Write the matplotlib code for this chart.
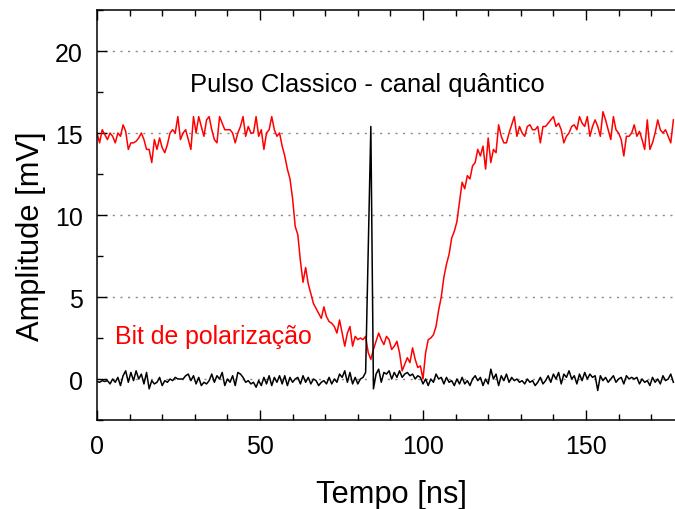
# Pulso classico e bit de polarizacao (canal quantico)
import numpy as np
import matplotlib.pyplot as plt
from matplotlib.ticker import MultipleLocator

plt.rcParams['font.family'] = ['Liberation Sans', 'DejaVu Sans']

# sample step of the scope trace [ns]
dt = 0.8

# red trace - bit de polarizacao [mV]
bit = [15.0, 14.4, 15.2, 14.9, 14.6, 15.0, 14.8, 14.4, 15.0, 14.8,
       15.5, 15.1, 14.0, 14.4, 14.4, 14.5, 14.7, 15.0, 14.6, 14.0,
       14.0, 13.2, 14.6, 14.0, 14.7, 14.1, 13.8, 14.3, 15.0, 15.2,
       15.0, 16.0, 14.6, 15.0, 15.2, 14.6, 14.0, 16.0, 15.0, 16.0,
       15.4, 14.8, 15.8, 16.0, 15.2, 14.6, 14.4, 16.0, 15.6, 15.2,
       15.2, 15.2, 15.0, 14.4, 15.0, 15.4, 16.0, 14.8, 15.4, 15.0,
       15.0, 16.0, 14.8, 15.2, 14.0, 15.0, 15.2, 16.0, 15.2, 14.8,
       15.0, 14.2, 13.6, 12.8, 12.2, 11.0, 9.3, 8.8, 7.2, 5.9,
       6.8, 5.8, 5.2, 4.6, 4.3, 4.0, 3.7, 4.4, 3.8, 3.5,
       3.4, 3.2, 2.8, 3.6, 2.8, 2.0, 2.8, 3.2, 2.0, 2.6,
       2.4, 2.5, 2.4, 2.6, 1.6, 1.2, 1.8, 2.3, 2.8, 2.4,
       2.1, 2.6, 2.4, 1.8, 2.0, 2.3, 1.6, 0.5, 0.9, 1.3,
       1.0, 1.9, 1.2, 0.7, 0.8, 0.0, 1.6, 2.4, 2.5, 2.7,
       3.2, 4.2, 5.0, 6.2, 7.0, 7.6, 8.6, 9.0, 9.6, 10.8,
       12.0, 11.6, 12.4, 12.2, 13.0, 13.2, 14.0, 13.6, 14.2, 12.8,
       14.7, 13.2, 14.0, 13.8, 15.5, 14.8, 14.4, 14.4, 15.0, 15.5,
       16.0, 14.8, 15.4, 15.0, 14.8, 15.4, 15.5, 15.2, 15.2, 15.4,
       14.4, 15.4, 15.4, 15.6, 15.8, 16.0, 15.4, 15.6, 15.2, 14.4,
       14.8, 15.0, 15.4, 15.5, 15.2, 16.0, 15.6, 15.4, 16.0, 14.8,
       15.4, 15.8, 15.4, 14.8, 16.3, 15.8, 15.2, 14.6, 16.0, 15.2,
       15.0, 14.6, 13.6, 14.8, 14.8, 15.0, 15.5, 14.8, 15.1, 14.6,
       14.0, 15.8, 14.0, 14.4, 15.0, 15.8, 15.2, 15.0, 15.2, 14.8,
       14.4, 15.8]

# black trace - pulso classico [mV]
pulso = [-0.15, -0.2, -0.1, -0.15, -0.1, -0.3, 0.0, -0.2, 0.1, -0.4,
         0.2, 0.5, -0.2, 0.4, -0.1, 0.5, 0.0, 0.3, -0.3, 0.4,
         -0.6, -0.1, -0.3, -0.2, 0.1, -0.4, -0.1, -0.2, 0.0, -0.1,
         0.1, 0.0, 0.0, 0.0, 0.2, 0.3, -0.1, 0.2, -0.3, 0.1,
         -0.4, -0.2, -0.3, -0.1, 0.3, -0.2, 0.2, 0.0, 0.4, -0.4,
         0.0, -0.2, 0.2, -0.4, 0.4, 0.3, 0.1, -0.2, -0.1, -0.3,
         -0.2, -0.5, -0.1, -0.4, 0.1, -0.3, 0.2, -0.4, 0.1, -0.2,
         0.2, -0.3, 0.2, -0.4, 0.1, -0.2, 0.0, 0.1, -0.3, 0.2,
         -0.2, 0.1, -0.3, 0.0, -0.1, -0.4, -0.2, -0.1, -0.3, 0.1,
         -0.3, 0.0, -0.2, 0.3, 0.1, 0.5, -0.2, 0.4, -0.3, 0.1,
         -0.3, 0.0, 0.1, 0.4, 7.9, 15.4, -0.6, 0.3, 0.6, -0.2,
         0.4, 0.3, 0.5, 0.0, 0.4, 0.1, 0.5, 0.1, 0.3, 0.4,
         0.2, 0.3, 0.0, 0.2, 0.1, -0.3, 0.0, -0.4, 0.0, -0.2,
         0.3, 0.0, 0.1, -0.3, 0.1, -0.2, -0.1, -0.4, 0.0, -0.3,
         0.1, -0.3, -0.1, -0.4, 0.0, 0.2, -0.1, 0.1, -0.4, 0.0,
         -0.3, 0.6, 0.0, 0.3, -0.4, 0.2, -0.1, 0.3, -0.2, 0.1,
         -0.1, 0.0, -0.2, -0.1, -0.3, 0.0, -0.2, -0.1, -0.4, -0.2,
         0.1, -0.3, -0.1, 0.2, -0.2, 0.3, 0.0, 0.4, -0.3, 0.3,
         0.1, 0.5, 0.0, 0.2, -0.3, 0.3, -0.1, 0.4, 0.0, 0.3,
         0.1, 0.2, -0.7, 0.2, -0.1, 0.1, -0.2, 0.0, 0.2, -0.2,
         0.0, 0.1, -0.3, 0.2, 0.0, 0.1, 0.0, 0.1, -0.3, 0.0,
         -0.2, -0.1, -0.4, 0.1, -0.2, 0.0, -0.3, 0.2, -0.1, 0.0,
         0.3, -0.2]

t = np.arange(len(bit)) * dt

fig = plt.figure(figsize=(6.75, 5.1), dpi=100)
ax = fig.add_axes([0.1437, 0.1745, 0.8563, 0.8039])

ax.plot(t, bit, color='red', lw=1.1)
ax.plot(t, pulso, color='black', lw=1.1)

ax.set_xlim(0, 177.3)
ax.set_ylim(-2.5, 22.5)
ax.xaxis.set_major_locator(MultipleLocator(50))
ax.xaxis.set_minor_locator(MultipleLocator(10))
ax.yaxis.set_major_locator(MultipleLocator(5))
ax.yaxis.set_minor_locator(MultipleLocator(2.5))

ax.grid(axis='y', which='major', color='#888888', lw=1.0, ls=(0, (1.5, 4)))
ax.set_axisbelow(True)

ax.spines['right'].set_visible(False)
for s in ['left', 'top', 'bottom']:
    ax.spines[s].set_linewidth(1.1)

ax.tick_params(which='both', direction='in', top=True, right=False,
               width=1.0, labelsize=18)
ax.tick_params(which='major', length=7.5)
ax.tick_params(which='minor', length=4.5)
ax.tick_params(axis='x', which='major', pad=10)
ax.tick_params(axis='y', which='major', pad=10)

ax.set_xlabel('Tempo [ns]', fontsize=22.2, labelpad=15)
ax.xaxis.label.set_x(0.509)
ax.set_ylabel('Amplitude [mV]', fontsize=22.2)
ax.yaxis.set_label_coords(-0.088, 0.45)

ax.text(28.5, 17.55, 'Pulso Classico - canal quântico', fontsize=18.4,
        va='baseline', ha='left')
ax.text(5.5, 2.22, 'Bit de polarização', fontsize=17.9, color='red',
        va='baseline', ha='left')

fig.savefig('out.png', dpi=100)
